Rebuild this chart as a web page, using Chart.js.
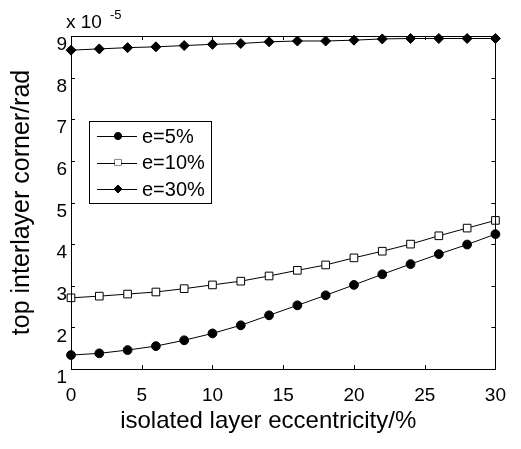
<!DOCTYPE html>
<html>
<head>
<meta charset="utf-8">
<script src="https://cdn.jsdelivr.net/npm/chart.js@4"></script>
<style>
    body { margin: 0; background: #fff; }
    #wrap { width: 521px; height: 449px; position: relative; }
</style>
</head>
<body>
<div id="wrap"><canvas id="chart"></canvas></div>
<script>
const eccentricity = [0, 2, 4, 6, 8, 10, 12, 14, 16, 18, 20, 22, 24, 26, 28, 30];
const e5 = [1.335, 1.376, 1.455, 1.55, 1.69, 1.855, 2.05, 2.29, 2.53, 2.77, 3.02, 3.275, 3.52, 3.76, 3.99, 4.24];
const e10 = [2.71, 2.75, 2.80, 2.85, 2.93, 3.02, 3.11, 3.235, 3.37, 3.50, 3.67, 3.83, 4.0, 4.20, 4.385, 4.57];
const e30 = [8.66, 8.69, 8.72, 8.74, 8.77, 8.80, 8.82, 8.86, 8.88, 8.88, 8.90, 8.93, 8.94, 8.94, 8.94, 8.94];
const seriesNames = ['e=5%', 'e=10%', 'e=30%'];
const xTitle = 'isolated layer eccentricity/%';
const yTitle = 'top interlayer corner/rad';

const FONT = 'Liberation Sans, Arial, sans-serif';

const toPoints = values => values.map((v, i) => ({x: eccentricity[i], y: v}));

// box round the plot, ticks pointing inwards on all four sides, exponent and x title
const framePlugin = {
    id: 'frame',
    afterDraw(chart) {
        const {ctx, chartArea: a, scales} = chart;
        ctx.save();
        ctx.strokeStyle = '#000';
        ctx.lineWidth = 1;
        ctx.strokeRect(Math.round(a.left) + 0.5, Math.round(a.top) + 0.5,
            Math.round(a.right - a.left), Math.round(a.bottom - a.top));

        const len = 4;
        ctx.beginPath();
        for (const t of scales.x.ticks) {
            const px = Math.round(scales.x.getPixelForValue(t.value)) + 0.5;
            ctx.moveTo(px, a.bottom); ctx.lineTo(px, a.bottom - len);
            ctx.moveTo(px, a.top); ctx.lineTo(px, a.top + len);
        }
        for (const t of scales.y.ticks) {
            const py = Math.round(scales.y.getPixelForValue(t.value)) + 0.5;
            ctx.moveTo(a.left, py); ctx.lineTo(a.left + len, py);
            ctx.moveTo(a.right, py); ctx.lineTo(a.right - len, py);
        }
        ctx.stroke();

        ctx.fillStyle = '#000';
        ctx.textBaseline = 'middle';
        ctx.textAlign = 'left';
        ctx.font = '19px ' + FONT;
        ctx.fillText('x 10', a.left - 5, a.top - 13);
        ctx.font = '13px ' + FONT;
        ctx.fillText('-5', a.left + 39, a.top - 21);

        // the original puts the x title a bit left of the axes centre
        ctx.font = '24px ' + FONT;
        ctx.textAlign = 'center';
        ctx.fillText(xTitle, (a.left + a.right) / 2 - 15, a.bottom + 52);
        ctx.restore();
    }
};

// legend box drawn inside the axes, like the original
const legendPlugin = {
    id: 'boxLegend',
    afterDraw(chart) {
        const {ctx, chartArea: a} = chart;
        const x0 = a.left + 18, y0 = a.top + 85, w = 122, h = 82;
        ctx.save();
        ctx.fillStyle = '#fff';
        ctx.fillRect(x0, y0, w, h);
        ctx.strokeStyle = '#000';
        ctx.lineWidth = 1;
        ctx.strokeRect(x0 + 0.5, y0 + 0.5, w, h);

        chart.data.datasets.forEach((ds, i) => {
            const y = y0 + 15 + i * 26.5;
            ctx.strokeStyle = '#000';
            ctx.lineWidth = 1;
            ctx.beginPath();
            ctx.moveTo(x0 + 8, Math.round(y) + 0.5);
            ctx.lineTo(x0 + 48, Math.round(y) + 0.5);
            ctx.stroke();

            ctx.fillStyle = ds.pointBackgroundColor;
            ctx.strokeStyle = ds.pointBorderColor;
            ctx.lineWidth = 1;
            Chart.helpers.drawPoint(ctx, {
                pointStyle: ds.pointStyle,
                radius: ds.pointRadius * 0.8,
                rotation: 0,
                borderWidth: 1
            }, x0 + 29, y);
            ctx.fill();

            ctx.fillStyle = '#000';
            ctx.font = '20px ' + FONT;
            ctx.textAlign = 'left';
            ctx.textBaseline = 'middle';
            ctx.fillText(ds.label, x0 + 53, y + 1);
        });
        ctx.restore();
    }
};

const makeSeries = (label, values, style, radius, fill) => ({
    label,
    data: toPoints(values),
    borderColor: '#000',
    borderWidth: 1,
    pointStyle: style,
    pointRadius: radius,
    pointHoverRadius: radius,
    pointBackgroundColor: fill,
    pointBorderColor: '#000',
    pointBorderWidth: 1,
    clip: false,
    tension: 0
});

new Chart(document.getElementById('chart'), {
    type: 'line',
    data: {
        datasets: [
            makeSeries(seriesNames[0], e5, 'circle', 4.4, '#000'),
            makeSeries(seriesNames[1], e10, 'rect', 5.4, '#fff'),
            makeSeries(seriesNames[2], e30, 'rectRot', 5, '#000')
        ]
    },
    options: {
        responsive: true,
        maintainAspectRatio: false,
        animation: false,
        layout: {padding: {left: 0, top: 36, right: 17, bottom: 0}},
        plugins: {legend: {display: false}, tooltip: {enabled: false}},
        scales: {
            x: {
                type: 'linear',
                min: 0,
                max: 30,
                grid: {display: false, drawTicks: false},
                border: {display: false},
                ticks: {
                    stepSize: 5,
                    padding: 15,
                    color: '#000',
                    font: {family: FONT, size: 19},
                    maxRotation: 0
                },
                afterFit(scale) { scale.height = 80; }
            },
            y: {
                min: 1,
                max: 9,
                grid: {display: false, drawTicks: false},
                border: {display: false},
                ticks: {
                    stepSize: 1,
                    padding: 4,
                    labelOffset: 9,
                    color: '#000',
                    font: {family: FONT, size: 19}
                },
                title: {
                    display: true,
                    text: yTitle,
                    color: '#000',
                    font: {family: FONT, size: 25},
                    padding: {top: 7, bottom: 0}
                },
                afterFit(scale) { scale.width = 71; }
            }
        }
    },
    plugins: [framePlugin, legendPlugin]
});
</script>
</body>
</html>
